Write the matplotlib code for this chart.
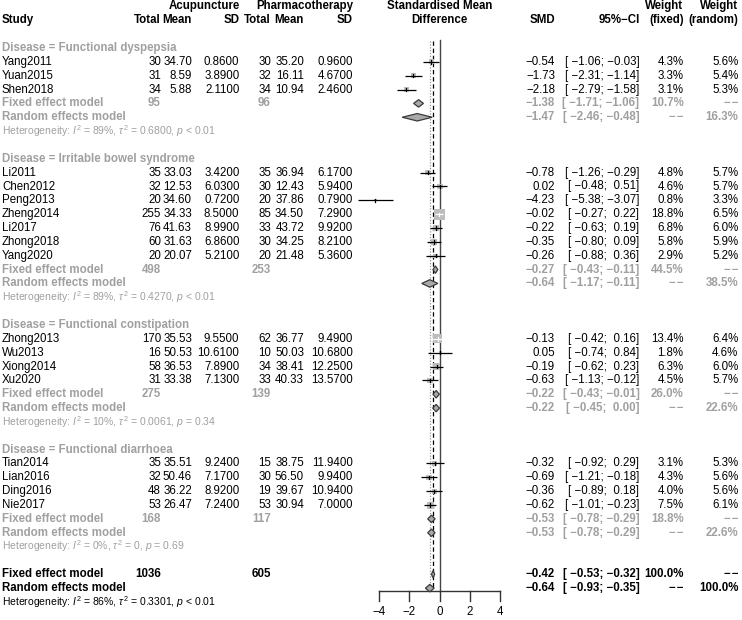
import matplotlib
matplotlib.use('Agg')
import matplotlib.pyplot as plt
from matplotlib.patches import Polygon

plt.rcParams['font.family'] = ['Liberation Sans', 'DejaVu Sans']
plt.rcParams['mathtext.fontset'] = 'custom'
plt.rcParams['mathtext.rm'] = 'Liberation Sans'
plt.rcParams['mathtext.it'] = 'Liberation Sans:italic'
plt.rcParams['mathtext.bf'] = 'Liberation Sans:bold'
plt.rcParams['mathtext.sf'] = 'Liberation Sans'

# ---------------- data ----------------
group_labels = ["Functional dyspepsia", "Irritable bowel syndrome",
                "Functional constipation", "Functional diarrhoea"]
study = ["Yang2011", "Yuan2015", "Shen2018",
         "Li2011", "Chen2012", "Peng2013", "Zheng2014", "Li2017", "Zhong2018", "Yang2020",
         "Zhong2013", "Wu2013", "Xiong2014", "Xu2020",
         "Tian2014", "Lian2016", "Ding2016", "Nie2017"]
study_group = [0, 0, 0, 1, 1, 1, 1, 1, 1, 1, 2, 2, 2, 2, 3, 3, 3, 3]
n_e = [30, 31, 34, 35, 32, 20, 255, 76, 60, 20, 170, 16, 58, 31, 35, 32, 48, 53]
mean_e = [34.70, 8.59, 5.88, 33.03, 12.53, 34.60, 34.33, 41.63, 31.63, 20.07,
          35.53, 50.53, 36.53, 33.38, 35.51, 50.46, 36.22, 26.47]
sd_e = [0.86, 3.89, 2.11, 3.42, 6.03, 0.72, 8.50, 8.99, 6.86, 5.21,
        9.55, 10.61, 7.89, 7.13, 9.24, 7.17, 8.92, 7.24]
n_c = [30, 32, 34, 35, 30, 20, 85, 33, 30, 20, 62, 10, 34, 33, 15, 30, 19, 53]
mean_c = [35.20, 16.11, 10.94, 36.94, 12.43, 37.86, 34.50, 43.72, 34.25, 21.48,
          36.77, 50.03, 38.41, 40.33, 38.75, 56.50, 39.67, 30.94]
sd_c = [0.96, 4.67, 2.46, 6.17, 5.94, 0.79, 7.29, 9.92, 8.21, 5.36,
        9.49, 10.68, 12.25, 13.57, 11.94, 9.94, 10.94, 7.00]
smd = [-0.54, -1.73, -2.18, -0.78, 0.02, -4.23, -0.02, -0.22, -0.35, -0.26,
       -0.13, 0.05, -0.19, -0.63, -0.32, -0.69, -0.36, -0.62]
ci_lo = [-1.06, -2.31, -2.79, -1.26, -0.48, -5.38, -0.27, -0.63, -0.80, -0.88,
         -0.42, -0.74, -0.62, -1.13, -0.92, -1.21, -0.89, -1.01]
ci_hi = [-0.03, -1.14, -1.58, -0.29, 0.51, -3.07, 0.22, 0.19, 0.09, 0.36,
         0.16, 0.84, 0.23, -0.12, 0.29, -0.18, 0.18, -0.23]
w_fixed = [4.3, 3.3, 3.1, 4.8, 4.6, 0.8, 18.8, 6.8, 5.8, 2.9,
           13.4, 1.8, 6.3, 4.5, 3.1, 4.3, 4.0, 7.5]
w_random = [5.6, 5.4, 5.3, 5.7, 5.7, 3.3, 6.5, 6.0, 5.9, 5.2,
            6.4, 4.6, 6.0, 5.7, 5.3, 5.6, 5.6, 6.1]

sub_n_e = [95, 498, 275, 168]
sub_n_c = [96, 253, 139, 117]
sub_fixed = [-1.38, -0.27, -0.22, -0.53]
sub_fixed_lo = [-1.71, -0.43, -0.43, -0.78]
sub_fixed_hi = [-1.06, -0.11, -0.01, -0.29]
sub_w_fixed = [10.7, 44.5, 26.0, 18.8]
sub_random = [-1.47, -0.64, -0.22, -0.53]
sub_random_lo = [-2.46, -1.17, -0.45, -0.78]
sub_random_hi = [-0.48, -0.11, 0.00, -0.29]
sub_w_random = [16.3, 38.5, 22.6, 22.6]
sub_i2 = ["89%", "89%", "10%", "0%"]
sub_tau2 = ["0.6800", "0.4270", "0.0061", "0"]
sub_p = ["< 0.01", "< 0.01", "= 0.34", "= 0.69"]

tot_n_e, tot_n_c = 1036, 605
tot_fixed, tot_fixed_lo, tot_fixed_hi = -0.42, -0.53, -0.32
tot_random, tot_random_lo, tot_random_hi = -0.64, -0.93, -0.35
tot_i2, tot_tau2, tot_p = "86%", "0.3301", "< 0.01"

xticks = [-4, -2, 0, 2, 4]

# ---------------- layout ----------------
W, H = 742, 620
ROW0, ROWH = 48.0, 13.85          # pixel y of first data row, row height
X0, XS = 439.5, 15.15              # pixel x of SMD=0, pixels per unit
GRAY = '#a0a0a0'
FS = 8.3
FS_HET = 7.5
DASH = "\u2212\u200a\u2212"

fig = plt.figure(figsize=(W / 100, H / 100), dpi=100)
ylim = ((H - ROW0) / ROWH, -ROW0 / ROWH)
tax = fig.add_axes([0, 0, 1, 1])
tax.set_xlim(0, W); tax.set_ylim(*ylim); tax.axis('off')
fax = fig.add_axes([0, 0, 1, 1])
fax.set_xlim(-X0 / XS, (W - X0) / XS); fax.set_ylim(*ylim); fax.axis('off')
fax.patch.set_alpha(0)

# columns (pixel x)
C_STUDY, C_NE, C_ME, C_SE, C_NC, C_MC, C_SC = 2, 161, 192, 239.5, 271, 304, 353
C_SMD, C_CI, C_WF, C_WR = 555, 639.5, 683.5, 738.5


def m(v, fmt="{:.2f}"):
    return fmt.format(v).replace('-', '\u2212')


def ci_txt(lo, hi):
    return "[ " + m(lo) + "; " + (" " if hi >= 0 else "") + m(hi) + "]"


def txt(x, y, s, ha='right', color='black', bold=False, size=FS):
    tax.text(x, y, s, ha=ha, va='center', color=color, fontsize=size,
             fontweight='bold' if bold else 'normal')


def diamond(est, lo, hi, y, h=0.27):
    fax.add_patch(Polygon([(lo, y), (est, y - h), (hi, y), (est, y + h)],
                          closed=True, facecolor='#a9a9a9', edgecolor='#3a3a3a',
                          lw=0.9, zorder=5, clip_on=False))


def het(y, i2, tau2, p, color):
    s = r"Heterogeneity: $I^2$ = " + i2 + ", " + r"$\tau^2$ = " + tau2 + ", $p$ " + p
    tax.text(C_STUDY, y, s, ha='left', va='center', color=color, fontsize=FS_HET)


# headers
txt(C_SE, -3, "Acupuncture", bold=True)
txt(C_SC, -3, "Pharmacotherapy", bold=True)
txt(X0, -3, "Standardised Mean", ha='center', bold=True)
txt(C_WF, -3, "Weight", bold=True)
txt(C_WR, -3, "Weight", bold=True)
txt(C_STUDY, -2, "Study", ha='left', bold=True)
for x, s in [(C_NE, "Total"), (C_ME, "Mean"), (C_SE, "SD"), (C_NC, "Total"),
             (C_MC, "Mean"), (C_SC, "SD"), (C_SMD, "SMD"), (C_CI, "95%\u2212CI"),
             (C_WF, "(fixed)"), (C_WR, "(random)")]:
    txt(x, -2, s, bold=True)
txt(X0, -2, "Difference", ha='center', bold=True)

maxw = max(w_fixed)
row = 0
for g, glabel in enumerate(group_labels):
    txt(C_STUDY, row, "Disease = " + glabel, ha='left', color=GRAY, bold=True)
    row += 1
    for i in [k for k, sg in enumerate(study_group) if sg == g]:
        txt(C_STUDY, row, study[i], ha='left')
        txt(C_NE, row, str(n_e[i])); txt(C_ME, row, m(mean_e[i]))
        txt(C_SE, row, m(sd_e[i], "{:.4f}"))
        txt(C_NC, row, str(n_c[i])); txt(C_MC, row, m(mean_c[i]))
        txt(C_SC, row, m(sd_c[i], "{:.4f}"))
        txt(C_SMD, row, m(smd[i])); txt(C_CI, row, ci_txt(ci_lo[i], ci_hi[i]))
        txt(C_WF, row, m(w_fixed[i], "{:.1f}") + "%")
        txt(C_WR, row, m(w_random[i], "{:.1f}") + "%")
        side = 11.0 * (w_fixed[i] / maxw) ** 0.5
        fax.scatter([smd[i]], [row], s=(side * 0.72) ** 2, marker='s',
                    color='#bdbdbd', edgecolors='none', zorder=3, clip_on=False)
        inside = (smd[i] - ci_lo[i]) * XS < side / 2 and (ci_hi[i] - smd[i]) * XS < side / 2
        lc = 'white' if inside else 'black'
        fax.plot([ci_lo[i], ci_hi[i]], [row, row], color=lc, lw=0.9, zorder=4,
                 clip_on=False, solid_capstyle='butt')
        fax.plot([smd[i], smd[i]], [row - 0.12, row + 0.12], color=lc, lw=0.9,
                 zorder=4, clip_on=False)
        row += 1
    # fixed
    txt(C_STUDY, row, "Fixed effect model", ha='left', color=GRAY, bold=True)
    txt(C_NE, row, str(sub_n_e[g]), color=GRAY, bold=True)
    txt(C_NC, row, str(sub_n_c[g]), color=GRAY, bold=True)
    txt(C_SMD, row, m(sub_fixed[g]), color=GRAY, bold=True)
    txt(C_CI, row, ci_txt(sub_fixed_lo[g], sub_fixed_hi[g]), color=GRAY, bold=True)
    txt(C_WF, row, m(sub_w_fixed[g], "{:.1f}") + "%", color=GRAY, bold=True)
    txt(C_WR, row, DASH, color=GRAY, bold=True)
    diamond(sub_fixed[g], sub_fixed_lo[g], sub_fixed_hi[g], row)
    row += 1
    txt(C_STUDY, row, "Random effects model", ha='left', color=GRAY, bold=True)
    txt(C_SMD, row, m(sub_random[g]), color=GRAY, bold=True)
    txt(C_CI, row, ci_txt(sub_random_lo[g], sub_random_hi[g]), color=GRAY, bold=True)
    txt(C_WF, row, DASH, color=GRAY, bold=True)
    txt(C_WR, row, m(sub_w_random[g], "{:.1f}") + "%", color=GRAY, bold=True)
    diamond(sub_random[g], sub_random_lo[g], sub_random_hi[g], row)
    row += 1
    het(row, sub_i2[g], sub_tau2[g], sub_p[g], GRAY)
    row += 2

# overall
txt(C_STUDY, row, "Fixed effect model", ha='left', bold=True)
txt(C_NE, row, str(tot_n_e), bold=True)
txt(C_NC, row, str(tot_n_c), bold=True)
txt(C_SMD, row, m(tot_fixed), bold=True)
txt(C_CI, row, ci_txt(tot_fixed_lo, tot_fixed_hi), bold=True)
txt(C_WF, row, "100.0%", bold=True)
txt(C_WR, row, DASH, bold=True)
diamond(tot_fixed, tot_fixed_lo, tot_fixed_hi, row)
row += 1
txt(C_STUDY, row, "Random effects model", ha='left', bold=True)
txt(C_SMD, row, m(tot_random), bold=True)
txt(C_CI, row, ci_txt(tot_random_lo, tot_random_hi), bold=True)
txt(C_WF, row, DASH, bold=True)
txt(C_WR, row, "100.0%", bold=True)
diamond(tot_random, tot_random_lo, tot_random_hi, row)
random_row = row
row += 1
het(row, tot_i2, tot_tau2, tot_p, 'black')

# reference lines and axis
axis_y = (591 - ROW0) / ROWH
top_y = -0.58
fax.plot([0, 0], [top_y, axis_y], color='#444444', lw=1.0, zorder=2)
fax.plot([tot_fixed, tot_fixed], [top_y + 0.1, random_row - 0.1], color='black',
         lw=0.9, ls=(0, (3.5, 2.2)), zorder=2)
fax.plot([tot_random, tot_random], [top_y + 0.1, random_row], color='#9a9a9a',
         lw=0.9, ls=(0, (1.0, 1.3)), zorder=2)
fax.plot([xticks[0], xticks[-1]], [axis_y, axis_y], color='#333333', lw=1.0)
for t in xticks:
    fax.plot([t, t], [axis_y, axis_y + 0.72], color='#333333', lw=1.0)
    fax.text(t, axis_y + 1.05, m(t, "{:d}"), ha='center', va='top', fontsize=FS)

fig.savefig('out.png', dpi=100)
